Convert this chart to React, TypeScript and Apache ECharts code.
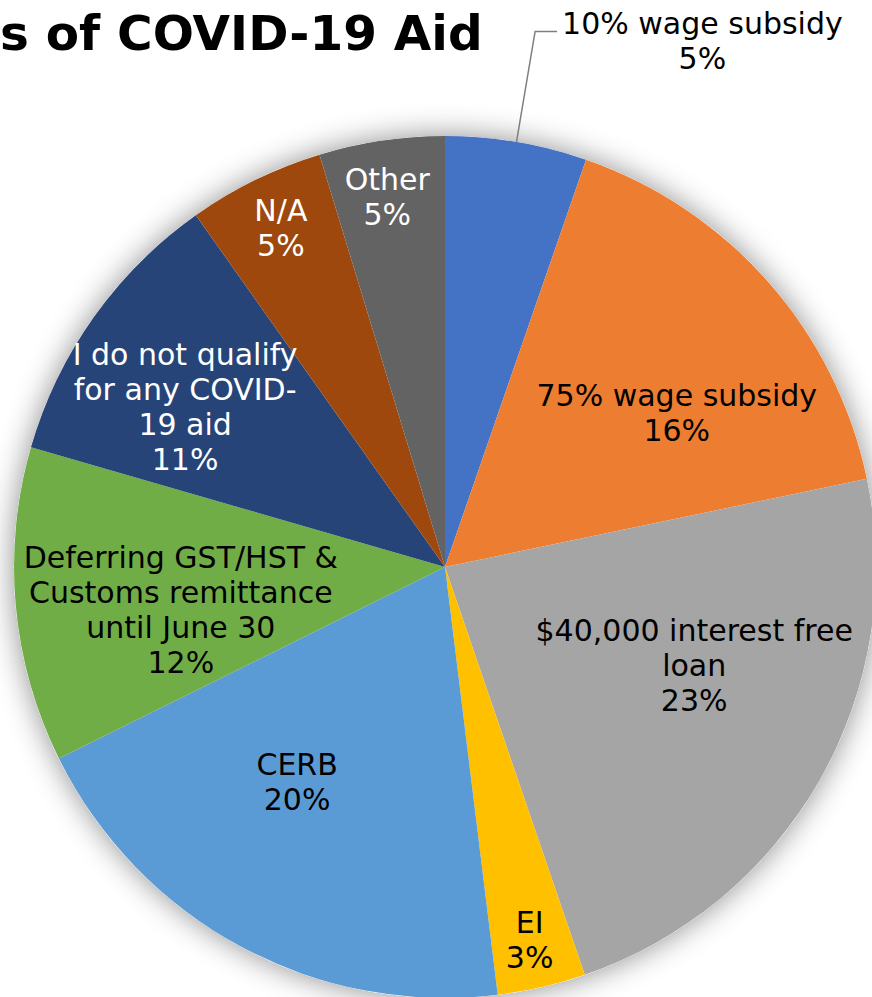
import React, { useEffect, useRef } from 'react';
import * as echarts from 'echarts';

const titleText = 's of COVID-19 Aid';
const categories = [
  '10% wage subsidy',
  '75% wage subsidy',
  '$40,000 interest free loan',
  'EI',
  'CERB',
  'Deferring GST/HST & Customs remittance until June 30',
  'I do not qualify for any COVID-19 aid',
  'N/A',
  'Other',
];
const labelNames = [
  '10% wage subsidy',
  '75% wage subsidy',
  '$40,000 interest free\nloan',
  'EI',
  'CERB',
  'Deferring GST/HST &\nCustoms remittance\nuntil June 30',
  'I do not qualify\nfor any COVID-\n19 aid',
  'N/A',
  'Other',
];
const shares = [5.3, 16.4, 23.0, 3.3, 19.6, 11.8, 10.7, 5.1, 4.7];

// styles
const colors = ['#4472C4', '#ED7D31', '#A5A5A5', '#FFC000', '#5B9BD5', '#70AD47', '#264478', '#9E480E', '#636363'];
const labelColors = ['#000', '#000', '#000', '#000', '#000', '#000', '#fff', '#fff', '#fff'];
const labelRadius = [0, 0.646, 0.622, 0.888, 0.606, 0.621, 0.708, 0.874, 0.869];
const labelAngleShift = [0, 7.7, -8.0, 0.2, 6.2, -4.1, -3.8, 0.3, -0.4];

const CX = 445;
const CY = 567;
const R = 431;
const FONT = '"DejaVu Sans", Verdana, sans-serif';
const LABEL_SIZE = 30;
const LINE_H = 35;

export default function App() {
  const ref = useRef<HTMLDivElement>(null);
  useEffect(() => {
    if (!ref.current) return;
    const chart = echarts.init(ref.current, undefined, { renderer: 'svg' });
    const total = shares.reduce((a, b) => a + b, 0);
    const mids: number[] = [];
    let cum = 0;
    shares.forEach((v) => {
      mids.push(((cum + v / 2) / total) * 360);
      cum += v;
    });

    const data = shares.map((v, i) => {
      const item: any = {
        value: v,
        name: categories[i],
        itemStyle: { color: colors[i] },
        label: { color: labelColors[i] },
      };
      if (i === 0) {
        item.label = {
          position: 'outside',
          color: '#000',
          padding: [18, 0, 0, 0],
        };
        item.labelLine = {
          show: true,
          length: 112,
          length2: 22,
          smooth: false,
          lineStyle: { color: '#808080', width: 1.5 },
        };
      }
      return item;
    });

    chart.setOption({
      animation: false,
      backgroundColor: '#fff',
      graphic: [
        {
          type: 'text',
          x: 0,
          y: 33,
          z: 10,
          style: {
            text: titleText,
            font: `bold 48.5px ${FONT}`,
            fill: '#000',
            align: 'left',
            verticalAlign: 'middle',
          },
        },
      ],
      series: [
        {
          type: 'pie',
          center: [CX, CY],
          radius: R,
          silent: true,
          z: 1,
          label: { show: false },
          labelLine: { show: false },
          data: [
            {
              value: 1,
              itemStyle: {
                color: '#fff',
                shadowBlur: 30,
                shadowColor: 'rgba(0,0,0,0.45)',
                shadowOffsetX: 0,
                shadowOffsetY: 0,
              },
            },
          ],
        },
        {
          type: 'pie',
          center: [CX, CY],
          radius: R,
          startAngle: 90,
          clockwise: true,
          avoidLabelOverlap: false,
          z: 2,
          label: {
            show: true,
            position: 'inside',
            fontFamily: FONT,
            fontSize: LABEL_SIZE,
            lineHeight: LINE_H,
            formatter: (p: any) => {
              const pct = Math.round(p.percent) + '%';
              if (p.dataIndex === 0) {
                return `{c|${labelNames[0]}}\n{c|${pct}}`;
              }
              return `${labelNames[p.dataIndex]}\n${pct}`;
            },
            rich: {
              c: {
                align: 'center',
                fontFamily: FONT,
                fontSize: LABEL_SIZE,
                lineHeight: LINE_H,
                color: '#000',
              },
            },
          },
          labelLine: { show: false },
          labelLayout: (params: any) => {
            const i = params.dataIndex;
            if (i === 0) return {};
            const a = ((mids[i] + labelAngleShift[i]) * Math.PI) / 180;
            const rr = labelRadius[i] * R;
            return {
              x: CX + rr * Math.sin(a),
              y: CY - rr * Math.cos(a),
            };
          },
          data,
        },
      ],
    });
    return () => chart.dispose();
  }, []);
  return (
    <div
      ref={ref}
      style={{ position: 'fixed', left: 0, top: 0, width: 872, height: 997 }}
    />
  );
}
